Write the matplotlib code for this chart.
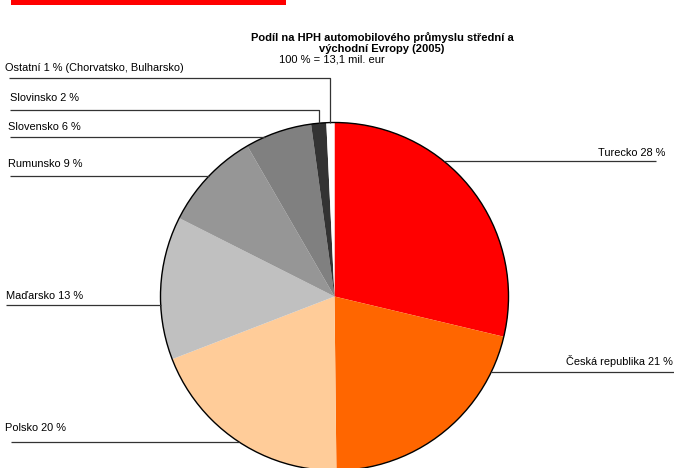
import numpy as np
import matplotlib
matplotlib.use('Agg')
import matplotlib.pyplot as plt
from matplotlib.patches import Circle

# data (slice shares, %), clockwise from 12 o'clock
countries = ['Turecko', 'Česká republika', 'Polsko', 'Maďarsko',
             'Rumunsko', 'Slovensko', 'Slovinsko', 'Ostatní']
shares = [28.7, 21.1, 19.3, 13.3, 9.2, 6.2, 1.4, 0.75]
labels = ['Turecko 28 %', 'Česká republika 21 %', 'Polsko 20 %', 'Maďarsko 13 %',
          'Rumunsko 9 %', 'Slovensko 6 %', 'Slovinsko 2 %',
          'Ostatní 1 % (Chorvatsko, Bulharsko)']
colors = ['#FF0000', '#FF6600', '#FFCC99', '#C0C0C0',
          '#969696', '#808080', '#333333', '#FFFFFF']

title_lines = ['Podíl na HPH automobilového průmyslu střední a',
               'východní Evropy (2005)']
subtitle = '100 % = 13,1 mil. eur'

plt.rcParams['font.family'] = ['Liberation Sans', 'DejaVu Sans']

W, H = 674, 468
fig = plt.figure(figsize=(W / 100, H / 100), dpi=100)
ax = fig.add_axes([0, 0, 1, 1])

# pie geometry (pixels, y from bottom)
cx, cy, r = 334.5, H - 296.5, 174

wedges, _ = ax.pie(shares, colors=colors, startangle=90, counterclock=False,
                   center=(cx, cy), radius=r, frame=True,
                   wedgeprops=dict(linewidth=0))
ax.set_xlim(0, W)
ax.set_ylim(0, H)
ax.axis('off')
ax.add_patch(Circle((cx, cy), r, fill=False, ec='black', lw=1.0, zorder=3))

# label layout: (text x, text y, ha, line y, line outer x, style) in px from top
layout = {
    'Turecko': (665, 153, 'right', 161, 656, 'h'),
    'Česká republika': (673, 361, 'right', 372, 674, 'h'),
    'Polsko': (5, 428, 'left', 442, 11, 'h'),
    'Maďarsko': (6, 296, 'left', 305, 6, 'h'),
    'Rumunsko': (8, 164, 'left', 176, 10, 'h'),
    'Slovensko': (8, 127, 'left', 137, 10, 'h'),
    'Slovinsko': (10, 98, 'left', 110, 10, 'elbow'),
    'Ostatní': (5, 68, 'left', 78, 9, 'elbow'),
}

line_kw = dict(color='#333333', lw=0.9, solid_capstyle='butt', zorder=4)
for name, lab, w in zip(countries, labels, wedges):
    tx, ty, ha, ly, lx, style = layout[name]
    ax.text(tx, H - ty, lab, ha=ha, va='center', fontsize=7.9)
    yl = H - ly
    if style == 'h':
        dx = np.sqrt(max(r ** 2 - (yl - cy) ** 2, 0))
        xe = cx + dx if ha == 'right' else cx - dx
        ax.plot([lx, xe], [yl, yl], **line_kw)
    else:
        mid = np.deg2rad((w.theta1 + w.theta2) / 2)
        xe = cx + r * np.cos(mid)
        ye = cy + r * np.sin(mid)
        ax.plot([lx, xe, xe], [yl, yl, ye], **line_kw)

# title block
for line, ty in zip(title_lines, [37.5, 48.5]):
    ax.text(382, H - ty, line, ha='center', va='center', fontsize=8.0,
            fontweight='bold')
ax.text(332, H - 60, subtitle, ha='center', va='center', fontsize=8.0)

# red bar at top left
ax.add_patch(plt.Rectangle((11, H - 5), 275, 5, color='#FF0000', lw=0,
                           clip_on=False))

fig.savefig('out.png', dpi=100)
